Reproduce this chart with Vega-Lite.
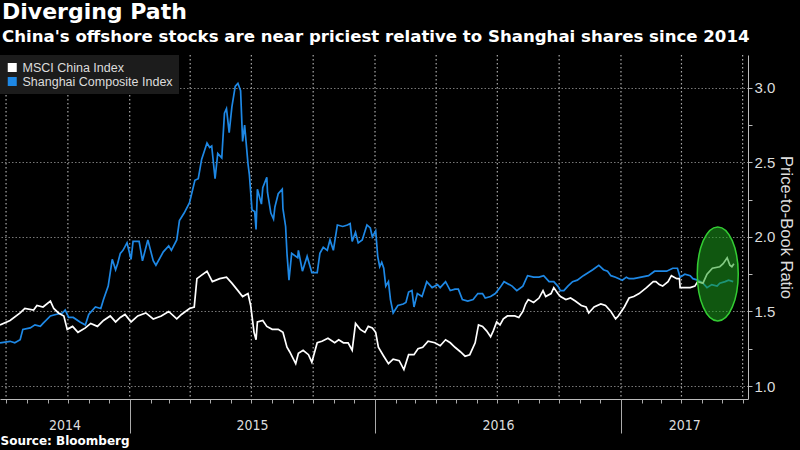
{
"$schema":"https://vega.github.io/schema/vega-lite/v6.json",
"width":748,"height":344,
"autosize":{"type":"none"},
"padding":{"left":0,"top":55,"right":52,"bottom":51},
"background":"#000000",
"title":{"text":"Diverging Path","subtitle":"China's offshore stocks are near priciest relative to Shanghai shares since 2014","anchor":"start","frame":"group","font":"DejaVu Sans","fontSize":22,"fontWeight":"bold","color":"#ffffff","subtitleFont":"DejaVu Sans","subtitleFontSize":16.6,"subtitleFontWeight":"bold","subtitleColor":"#ffffff","subtitlePadding":5,"offset":8,"dx":2},
"config":{"view":{"stroke":null},"font":"Liberation Sans"},
"resolve":{"axis":{"x":"independent"}},
"layer":[
{"data":{"values":[{"d":"2014/07/01"},{"d":"2014/10/01"},{"d":"2015/01/01"},{"d":"2015/04/01"},{"d":"2015/07/01"},{"d":"2015/10/01"},{"d":"2016/01/01"},{"d":"2016/04/01"},{"d":"2016/07/01"},{"d":"2016/10/01"},{"d":"2017/01/01"},{"d":"2017/04/01"},{"d":"2017/07/01"}]},
"mark":{"type":"rule","stroke":"#aaaaaa","strokeWidth":1.2,"strokeDash":[1.5,2.5],"opacity":1},
"encoding":{"x":{"field":"d","type":"temporal","scale":{"domain":[{"year":2014,"month":6,"date":22},{"year":2017,"month":7,"date":9}]},
"axis":{"orient":"bottom","values":[{"year":2014,"month":9,"date":26},{"year":2015,"month":7,"date":2},{"year":2016,"month":7,"date":2},{"year":2017,"month":4,"date":5}],
"format":"%Y","domain":false,"ticks":false,"grid":false,"labelColor":"#dddddd","labelFont":"DejaVu Sans Condensed, Roboto, Liberation Sans","labelFontSize":14,"labelPadding":19,"labelOverlap":false,"labelFlush":false,"title":null}},
"y":{"datum":3.22},"y2":{"datum":0.913}}},
{"data":{"values":[
{"d":"2014/06/22","v":1.29},{"d":"2014/07/07","v":1.30},{"d":"2014/07/14","v":1.29},{"d":"2014/07/22","v":1.31},{"d":"2014/07/26","v":1.38},{"d":"2014/08/06","v":1.39},{"d":"2014/08/13","v":1.41},{"d":"2014/08/21","v":1.40},{"d":"2014/08/25","v":1.42},{"d":"2014/09/05","v":1.47},{"d":"2014/09/13","v":1.48},{"d":"2014/09/23","v":1.49},{"d":"2014/09/27","v":1.51},{"d":"2014/10/02","v":1.46},{"d":"2014/10/09","v":1.46},{"d":"2014/10/19","v":1.43},{"d":"2014/10/27","v":1.41},{"d":"2014/11/01","v":1.48},{"d":"2014/11/11","v":1.53},{"d":"2014/11/19","v":1.52},{"d":"2014/11/23","v":1.58},{"d":"2014/11/30","v":1.67},{"d":"2014/12/06","v":1.85},{"d":"2014/12/11","v":1.78},{"d":"2014/12/14","v":1.82},{"d":"2014/12/18","v":1.89},{"d":"2014/12/22","v":1.91},{"d":"2014/12/28","v":1.96},
{"d":"2015/01/03","v":1.85},{"d":"2015/01/06","v":1.97},{"d":"2015/01/15","v":1.97},{"d":"2015/01/20","v":1.84},{"d":"2015/01/28","v":1.98},{"d":"2015/02/05","v":1.84},{"d":"2015/02/09","v":1.81},{"d":"2015/02/20","v":1.90},{"d":"2015/02/28","v":1.94},{"d":"2015/03/04","v":1.91},{"d":"2015/03/12","v":1.98},{"d":"2015/03/16","v":2.11},{"d":"2015/03/23","v":2.16},{"d":"2015/03/31","v":2.23},{"d":"2015/04/08","v":2.38},{"d":"2015/04/13","v":2.39},{"d":"2015/04/18","v":2.52},{"d":"2015/04/26","v":2.63},{"d":"2015/04/30","v":2.60},{"d":"2015/05/03","v":2.61},{"d":"2015/05/08","v":2.39},{"d":"2015/05/12","v":2.56},{"d":"2015/05/18","v":2.53},{"d":"2015/05/22","v":2.83},{"d":"2015/05/25","v":2.86},{"d":"2015/05/29","v":2.70},{"d":"2015/06/02","v":2.87},{"d":"2015/06/07","v":3.01},{"d":"2015/06/11","v":3.03},{"d":"2015/06/15","v":2.98},{"d":"2015/06/18","v":2.64},{"d":"2015/06/21","v":2.75},{"d":"2015/06/26","v":2.49},{"d":"2015/06/28","v":2.42},{"d":"2015/07/02","v":2.18},{"d":"2015/07/06","v":2.17},{"d":"2015/07/08","v":2.05},{"d":"2015/07/10","v":2.32},{"d":"2015/07/16","v":2.22},{"d":"2015/07/18","v":2.33},{"d":"2015/07/24","v":2.40},{"d":"2015/07/25","v":2.30},{"d":"2015/07/30","v":2.16},{"d":"2015/08/03","v":2.12},{"d":"2015/08/05","v":2.20},{"d":"2015/08/10","v":2.29},{"d":"2015/08/16","v":2.32},{"d":"2015/08/17","v":2.19},{"d":"2015/08/21","v":2.07},{"d":"2015/08/23","v":1.89},{"d":"2015/08/26","v":1.71},{"d":"2015/08/30","v":1.89},{"d":"2015/09/08","v":1.86},{"d":"2015/09/09","v":1.91},{"d":"2015/09/15","v":1.77},{"d":"2015/09/22","v":1.87},{"d":"2015/09/29","v":1.76},{"d":"2015/10/07","v":1.76},{"d":"2015/10/11","v":1.89},{"d":"2015/10/16","v":1.93},{"d":"2015/10/22","v":1.91},{"d":"2015/10/26","v":1.98},{"d":"2015/10/31","v":1.91},{"d":"2015/11/06","v":2.08},{"d":"2015/11/14","v":2.07},{"d":"2015/11/21","v":2.08},{"d":"2015/11/25","v":2.09},{"d":"2015/11/28","v":1.97},{"d":"2015/12/03","v":2.03},{"d":"2015/12/07","v":1.96},{"d":"2015/12/13","v":1.98},{"d":"2015/12/20","v":2.08},{"d":"2015/12/25","v":2.06},{"d":"2015/12/28","v":2.00},
{"d":"2016/01/02","v":2.04},{"d":"2016/01/05","v":1.87},{"d":"2016/01/08","v":1.80},{"d":"2016/01/11","v":1.83},{"d":"2016/01/14","v":1.79},{"d":"2016/01/17","v":1.67},{"d":"2016/01/21","v":1.70},{"d":"2016/01/24","v":1.58},{"d":"2016/01/28","v":1.49},{"d":"2016/02/04","v":1.54},{"d":"2016/02/12","v":1.55},{"d":"2016/02/16","v":1.56},{"d":"2016/02/20","v":1.63},{"d":"2016/02/25","v":1.64},{"d":"2016/02/28","v":1.53},{"d":"2016/03/04","v":1.62},{"d":"2016/03/11","v":1.60},{"d":"2016/03/18","v":1.70},{"d":"2016/03/26","v":1.66},{"d":"2016/04/03","v":1.68},{"d":"2016/04/07","v":1.66},{"d":"2016/04/15","v":1.70},{"d":"2016/04/22","v":1.64},{"d":"2016/04/29","v":1.65},{"d":"2016/05/04","v":1.65},{"d":"2016/05/10","v":1.58},{"d":"2016/05/18","v":1.57},{"d":"2016/05/26","v":1.58},{"d":"2016/06/02","v":1.62},{"d":"2016/06/09","v":1.62},{"d":"2016/06/13","v":1.59},{"d":"2016/06/21","v":1.60},{"d":"2016/06/28","v":1.62},{"d":"2016/07/05","v":1.66},{"d":"2016/07/11","v":1.70},{"d":"2016/07/23","v":1.67},{"d":"2016/07/30","v":1.64},{"d":"2016/08/08","v":1.67},{"d":"2016/08/15","v":1.74},{"d":"2016/08/24","v":1.73},{"d":"2016/09/01","v":1.73},{"d":"2016/09/08","v":1.74},{"d":"2016/09/16","v":1.70},{"d":"2016/09/23","v":1.70},{"d":"2016/09/29","v":1.67},{"d":"2016/10/03","v":1.64},{"d":"2016/10/08","v":1.64},{"d":"2016/10/14","v":1.67},{"d":"2016/10/21","v":1.70},{"d":"2016/10/28","v":1.71},{"d":"2016/11/06","v":1.74},{"d":"2016/11/13","v":1.76},{"d":"2016/11/20","v":1.78},{"d":"2016/11/29","v":1.81},{"d":"2016/12/06","v":1.78},{"d":"2016/12/12","v":1.77},{"d":"2016/12/17","v":1.74},{"d":"2016/12/24","v":1.73},
{"d":"2017/01/03","v":1.71},{"d":"2017/01/09","v":1.73},{"d":"2017/01/13","v":1.72},{"d":"2017/01/20","v":1.72},{"d":"2017/01/31","v":1.73},{"d":"2017/02/11","v":1.74},{"d":"2017/02/20","v":1.77},{"d":"2017/02/28","v":1.77},{"d":"2017/03/10","v":1.77},{"d":"2017/03/19","v":1.79},{"d":"2017/03/26","v":1.79},{"d":"2017/03/30","v":1.73},{"d":"2017/04/06","v":1.75},{"d":"2017/04/14","v":1.74},{"d":"2017/04/18","v":1.72},{"d":"2017/04/25","v":1.71},{"d":"2017/05/03","v":1.69},{"d":"2017/05/09","v":1.66},{"d":"2017/05/16","v":1.68},{"d":"2017/05/24","v":1.67},{"d":"2017/05/28","v":1.69},{"d":"2017/06/05","v":1.70},{"d":"2017/06/10","v":1.71},{"d":"2017/06/17","v":1.70}
]},
"mark":{"type":"line","strokeWidth":1.7},
"encoding":{
"x":{"field":"d","type":"temporal",
"axis":{"orient":"bottom","tickCount":{"interval":"month","step":1},"domainColor":"#bbbbbb","domainWidth":1,"tickColor":"#aaaaaa","tickWidth":1,"tickSize":4,"labels":false,"grid":false,"title":null}},
"y":{"field":"v","type":"quantitative","scale":{"domain":[0.913,3.22],"nice":false,"zero":false},
"axis":{"orient":"right","values":[1,1.25,1.5,1.75,2,2.25,2.5,2.75,3],
"labelExpr":"datum.value % 0.5 === 0 ? format(datum.value,'.1f') : ''",
"grid":true,"gridColor":"#777777","gridDash":[1.5,2],
"gridOpacity":{"condition":{"test":"datum.value % 0.5 === 0","value":1},"value":0},
"domainColor":"#bbbbbb","tickColor":"#bbbbbb","tickSize":4,
"labelColor":"#dddddd","labelFontSize":15,"labelPadding":2,"labelOverlap":false,"labelFlush":false,
"title":"Price-to-Book Ratio","titleColor":"#dddddd","titleFontSize":16.5,"titleFontWeight":"normal","titlePadding":3}},
"color":{"datum":"Shanghai Composite Index","type":"nominal",
"scale":{"domain":["MSCI China Index","Shanghai Composite Index"],"range":["#ffffff","#1e88e5"]},
"legend":{"orient":"top-left","offset":0,"title":null,"fillColor":"#1c1c1c","padding":6,"symbolType":"square","symbolSize":16,"symbolStrokeWidth":5,"labelColor":"#dddddd","labelFontSize":12.5,"clipHeight":13,"rowPadding":1,"labelOffset":4}}
}},
{"data":{"values":[
{"d":"2014/06/22","v":1.41},{"d":"2014/07/07","v":1.44},{"d":"2014/07/22","v":1.49},{"d":"2014/07/29","v":1.52},{"d":"2014/08/11","v":1.51},{"d":"2014/08/16","v":1.54},{"d":"2014/08/25","v":1.53},{"d":"2014/09/05","v":1.57},{"d":"2014/09/10","v":1.52},{"d":"2014/09/17","v":1.49},{"d":"2014/09/25","v":1.47},{"d":"2014/09/30","v":1.38},{"d":"2014/10/08","v":1.40},{"d":"2014/10/16","v":1.36},{"d":"2014/10/27","v":1.39},{"d":"2014/11/04","v":1.42},{"d":"2014/11/14","v":1.40},{"d":"2014/11/23","v":1.44},{"d":"2014/12/03","v":1.47},{"d":"2014/12/11","v":1.43},{"d":"2014/12/18","v":1.46},{"d":"2014/12/25","v":1.48},
{"d":"2015/01/03","v":1.43},{"d":"2015/01/13","v":1.47},{"d":"2015/01/25","v":1.49},{"d":"2015/02/05","v":1.45},{"d":"2015/02/17","v":1.47},{"d":"2015/02/28","v":1.50},{"d":"2015/03/12","v":1.45},{"d":"2015/03/19","v":1.48},{"d":"2015/03/31","v":1.52},{"d":"2015/04/07","v":1.53},{"d":"2015/04/11","v":1.72},{"d":"2015/04/17","v":1.74},{"d":"2015/04/26","v":1.77},{"d":"2015/05/04","v":1.70},{"d":"2015/05/15","v":1.72},{"d":"2015/05/25","v":1.73},{"d":"2015/06/02","v":1.69},{"d":"2015/06/11","v":1.64},{"d":"2015/06/18","v":1.60},{"d":"2015/06/26","v":1.62},{"d":"2015/06/30","v":1.54},{"d":"2015/07/05","v":1.36},{"d":"2015/07/08","v":1.31},{"d":"2015/07/10","v":1.43},{"d":"2015/07/18","v":1.44},{"d":"2015/07/24","v":1.40},{"d":"2015/08/01","v":1.38},{"d":"2015/08/10","v":1.38},{"d":"2015/08/17","v":1.36},{"d":"2015/08/23","v":1.26},{"d":"2015/08/27","v":1.23},{"d":"2015/09/05","v":1.15},{"d":"2015/09/09","v":1.22},{"d":"2015/09/16","v":1.24},{"d":"2015/09/24","v":1.21},{"d":"2015/09/29","v":1.16},{"d":"2015/10/07","v":1.29},{"d":"2015/10/14","v":1.30},{"d":"2015/10/23","v":1.32},{"d":"2015/11/02","v":1.29},{"d":"2015/11/08","v":1.31},{"d":"2015/11/15","v":1.29},{"d":"2015/11/22","v":1.29},{"d":"2015/11/28","v":1.24},{"d":"2015/12/03","v":1.42},{"d":"2015/12/10","v":1.38},{"d":"2015/12/17","v":1.36},{"d":"2015/12/22","v":1.40},{"d":"2015/12/28","v":1.39},
{"d":"2016/01/02","v":1.36},{"d":"2016/01/06","v":1.26},{"d":"2016/01/14","v":1.20},{"d":"2016/01/21","v":1.15},{"d":"2016/01/28","v":1.18},{"d":"2016/02/06","v":1.17},{"d":"2016/02/13","v":1.11},{"d":"2016/02/20","v":1.21},{"d":"2016/02/28","v":1.21},{"d":"2016/03/05","v":1.25},{"d":"2016/03/12","v":1.26},{"d":"2016/03/20","v":1.30},{"d":"2016/03/30","v":1.29},{"d":"2016/04/07","v":1.27},{"d":"2016/04/15","v":1.31},{"d":"2016/04/22","v":1.29},{"d":"2016/04/29","v":1.26},{"d":"2016/05/07","v":1.23},{"d":"2016/05/14","v":1.20},{"d":"2016/05/21","v":1.21},{"d":"2016/05/29","v":1.29},{"d":"2016/06/03","v":1.41},{"d":"2016/06/09","v":1.40},{"d":"2016/06/15","v":1.37},{"d":"2016/06/21","v":1.33},{"d":"2016/06/25","v":1.37},{"d":"2016/06/30","v":1.43},{"d":"2016/07/05","v":1.41},{"d":"2016/07/10","v":1.45},{"d":"2016/07/16","v":1.47},{"d":"2016/07/27","v":1.47},{"d":"2016/08/02","v":1.46},{"d":"2016/08/08","v":1.50},{"d":"2016/08/12","v":1.55},{"d":"2016/08/16","v":1.58},{"d":"2016/08/24","v":1.56},{"d":"2016/09/01","v":1.59},{"d":"2016/09/07","v":1.64},{"d":"2016/09/11","v":1.60},{"d":"2016/09/19","v":1.62},{"d":"2016/09/23","v":1.66},{"d":"2016/09/29","v":1.62},{"d":"2016/10/03","v":1.60},{"d":"2016/10/11","v":1.58},{"d":"2016/10/18","v":1.59},{"d":"2016/10/25","v":1.57},{"d":"2016/11/03","v":1.54},{"d":"2016/11/10","v":1.53},{"d":"2016/11/14","v":1.49},{"d":"2016/11/22","v":1.53},{"d":"2016/12/02","v":1.55},{"d":"2016/12/09","v":1.54},{"d":"2016/12/17","v":1.50},{"d":"2016/12/24","v":1.45},{"d":"2016/12/28","v":1.47},
{"d":"2017/01/06","v":1.53},{"d":"2017/01/13","v":1.59},{"d":"2017/01/20","v":1.60},{"d":"2017/01/28","v":1.62},{"d":"2017/02/08","v":1.66},{"d":"2017/02/18","v":1.70},{"d":"2017/02/22","v":1.70},{"d":"2017/02/27","v":1.68},{"d":"2017/03/04","v":1.67},{"d":"2017/03/12","v":1.70},{"d":"2017/03/17","v":1.74},{"d":"2017/03/25","v":1.72},{"d":"2017/03/29","v":1.72},{"d":"2017/03/30","v":1.66},{"d":"2017/04/06","v":1.66},{"d":"2017/04/14","v":1.66},{"d":"2017/04/21","v":1.67},{"d":"2017/04/25","v":1.70},{"d":"2017/05/03","v":1.69},{"d":"2017/05/09","v":1.75},{"d":"2017/05/17","v":1.79},{"d":"2017/05/28","v":1.80},{"d":"2017/06/02","v":1.82},{"d":"2017/06/08","v":1.86},{"d":"2017/06/12","v":1.81},{"d":"2017/06/15","v":1.80},{"d":"2017/06/18","v":1.82}
]},
"mark":{"type":"line","strokeWidth":1.7},
"encoding":{
"x":{"field":"d","type":"temporal",
"axis":{"orient":"bottom","values":[{"year":2015,"month":1,"date":1},{"year":2016,"month":1,"date":1},{"year":2017,"month":1,"date":1}],"domain":false,"tickColor":"#aaaaaa","tickWidth":1,"tickSize":34,"labels":false,"grid":false,
"title":"Source: Bloomberg","titleAnchor":"start","titleAlign":"left","titleBaseline":"top","titleColor":"#ffffff","titleFont":"DejaVu Sans","titleFontSize":12,"titleFontWeight":"bold","titlePadding":2}},
"y":{"field":"v","type":"quantitative"},
"color":{"datum":"MSCI China Index","type":"nominal"}
}},
{"data":{"values":[{"d":"2017/05/25","v":1.752}]},
"mark":{"type":"point","shape":"M -0.436 0 A 0.436 1 0 1 0 0.436 0 A 0.436 1 0 1 0 -0.436 0 Z","size":8836,"filled":true,"fill":"#1e9e1e","fillOpacity":0.55,"stroke":"#33cc33","strokeWidth":1.5,"strokeOpacity":1,"opacity":1},
"encoding":{"x":{"field":"d","type":"temporal","axis":null},"y":{"field":"v","type":"quantitative"}}}
]
}
